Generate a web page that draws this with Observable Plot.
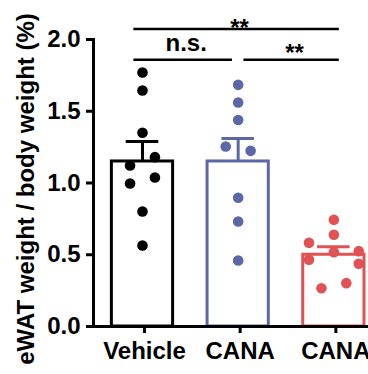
<!DOCTYPE html>
<html><head><meta charset="utf-8">
<script src="https://cdn.jsdelivr.net/npm/d3@7"></script>
<script src="https://cdn.jsdelivr.net/npm/@observablehq/plot@0.6"></script>
<style>html,body{margin:0;padding:0;background:#fff;overflow:hidden}</style>
</head><body><div id="chart"></div>
<script>
// ---- data ----
const groupLabels = ["Vehicle", "CANA", "CANA"];
const groupColors = ["#000000", "#5b67a6", "#e05253"];
const means = [1.15, 1.15, 0.50];
const sems = [0.14, 0.16, 0.055];
const vehicleValues = [1.770, 1.645, 1.350, 1.180, 1.122, 1.038, 0.997, 0.801, 0.564];
const vehicleSlots  = [0, 0, 0, 1, -1, 1, -1, 0, 0];
const canaValues    = [1.684, 1.561, 1.439, 1.254, 1.224, 0.897, 0.732, 0.460];
const canaSlots     = [0, 0, 0, -1, 1, 0, 0, 0];
const cana2Values   = [0.744, 0.639, 0.583, 0.525, 0.518, 0.465, 0.437, 0.302, 0.267];
const cana2Slots    = [0, 0, -2, 2, 0, -2, 2, 1, -1];
const yTicks = [0, 0.5, 1.0, 1.5, 2.0];
const yLabel = "eWAT weight / body weight (%)";
const bracketFrom = [0, 0, 1];
const bracketTo   = [2, 1, 2];
const bracketY    = [2.073, 1.859, 1.859];
const bracketText = ["**", "n.s.", "**"];

// ---- build tables ----
const groups = groupLabels.map((label, i) => ({i, label, mean: means[i], sem: sems[i]}));
const valueSets = [vehicleValues, canaValues, cana2Values];
const slotSets = [vehicleSlots, canaSlots, cana2Slots];
const points = valueSets.flatMap((vals, g) => vals.map((v, k) => ({g, value: v, slot: slotSets[g][k]})));
const brackets = bracketText.map((t, k) => ({from: bracketFrom[k], to: bracketTo[k], y: bracketY[k], text: t, k}));

const slotW = 0.13, halfBar = 0.32, halfCap = 0.17;
const bx1 = d => d.from === 0 ? d.from - 0.09 : d.from + 0.06;
const bx2 = d => d.to === 2 ? d.to + 0.057 : d.to - 0.06;
const labelDy = d => d.text === "n.s." ? -16 : (d.y > 2 ? -1 : -6);

const font = "'Liberation Sans', Arial, Helvetica, sans-serif";

const chart = Plot.plot({
  width: 368, height: 374,
  marginLeft: 93, marginRight: 0, marginTop: 39, marginBottom: 48,
  style: {fontFamily: font, fontSize: "24px", fontWeight: "bold", color: "#000", background: "#fff", overflow: "visible"},
  x: {domain: [-0.512, 2.362]},
  y: {domain: [0, 2]},
  color: {type: "ordinal", domain: [0, 1, 2], range: groupColors},
  marks: [
    Plot.rect(groups, {x1: d => d.i - halfBar, x2: d => d.i + halfBar, y1: 0, y2: "mean", stroke: "i", fill: "white", strokeWidth: 3}),
    Plot.ruleX(groups, {x: "i", y1: "mean", y2: d => d.mean + d.sem, stroke: "i", strokeWidth: 3}),
    Plot.ruleY(groups, {y: d => d.mean + d.sem, x1: d => d.i - halfCap, x2: d => d.i + halfCap, stroke: "i", strokeWidth: 3}),
    Plot.dot(points, {x: d => d.g + d.slot * slotW, y: "value", r: 5.3, fill: "g"}),
    Plot.ruleY(brackets, {y: "y", x1: bx1, x2: bx2, stroke: "#000", strokeWidth: 2.3}),
    ...brackets.map(d => Plot.text([d], {x: e => (bx1(e) + bx2(e)) / 2, y: "y", text: "text", lineAnchor: "middle", dx: 3, dy: labelDy(d), fontSize: 24, fontWeight: "bold", fill: "#000"})),
    Plot.axisY({ticks: yTicks, tickFormat: d3.format(".1f"), tickSize: 7, tickPadding: 6, strokeWidth: 3, label: null, fontSize: 24}),
    Plot.axisX({ticks: [0, 1, 2], tickFormat: i => groupLabels[i], tickSize: 7, tickPadding: 8, strokeWidth: 3, label: null, fontSize: 24, dx: 2}),
    Plot.frame({anchor: "left", strokeWidth: 3}),
    Plot.frame({anchor: "bottom", strokeWidth: 3}),
    Plot.text([yLabel], {text: d => d, frameAnchor: "left", textAnchor: "middle", rotate: -90, dx: -67, dy: 6, lineAnchor: "middle", fontSize: 24, fontWeight: "bold", fill: "#000"})
  ]
});
document.getElementById("chart").appendChild(chart);
</script>
</body></html>
